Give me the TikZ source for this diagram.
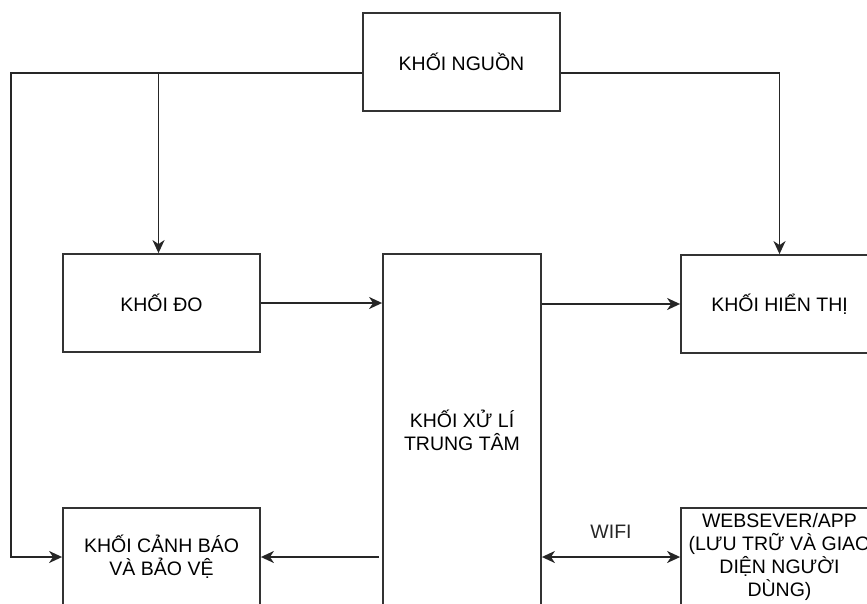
\documentclass[tikz,border=0pt]{standalone}
\usepackage{fontspec}
\setmainfont{Liberation Sans}
\usepackage{tikz}
\usetikzlibrary{arrows.meta, positioning}

\begin{document}
\begin{tikzpicture}[
  x=1pt, y=-1pt,
  blk/.style={draw=black!80, line width=1.8pt, fill=white,
    minimum width=197pt, minimum height=98pt, align=center,
    font=\fontsize{19.5}{23}\selectfont, inner sep=2pt},
  arr/.style={-{Stealth[length=13pt, width=12pt, inset=4pt]}, line width=1.8pt, black!85},
  dbl/.style={{Stealth[length=13pt, width=12pt, inset=4pt]}-{Stealth[length=13pt, width=12pt, inset=4pt]},
    line width=1.8pt, black!85},
  lbl/.style={font=\fontsize{19.5}{23}\selectfont},
]
  \useasboundingbox (0,0) rectangle (867,603);

  %% Blocks
  \node[blk] (nguon) at (461.5,62) {KHỐI NGUỒN};
  \node[blk] (do) at (161.5,303) {KHỐI ĐO};
  \node[blk, minimum width=158pt, minimum height=352pt] (xuly) at (462,430)
    {KHỐI XỬ LÍ\\TRUNG TÂM};
  \node[blk] (hienthi) at (779.5,304) {KHỐI HIỂN THỊ};
  \node[blk] (canhbao) at (161.5,557) {KHỐI CẢNH BÁO\\VÀ BẢO VỆ};
  \node[blk] (web) at (779.5,557)
    {WEBSEVER/APP\\(LƯU TRỮ VÀ GIAO\\DIỆN NGƯỜI\\DÙNG)};

  %% Power bus
  \coordinate (busL) at (11,73);
  \draw[arr] ([yshift=-11pt]nguon.west) -- (busL) |- (canhbao.west);
  \draw[arr] ([xshift=-3pt]do.north |- busL) -- ([xshift=-3pt]do.north);
  \draw[arr] ([yshift=-11pt]nguon.east) -| (hienthi.north);

  %% Signal paths
  \draw[arr] (do.east) -- (do.east -| xuly.west);
  \draw[arr] (xuly.east |- hienthi.west) -- (hienthi.west);
  \draw[arr] ([xshift=-3pt]xuly.west |- canhbao.east) -- (canhbao.east);
  \draw[dbl] (xuly.east |- web.west) -- node[lbl, above=14pt] {WIFI} (web.west);
\end{tikzpicture}
\end{document}
